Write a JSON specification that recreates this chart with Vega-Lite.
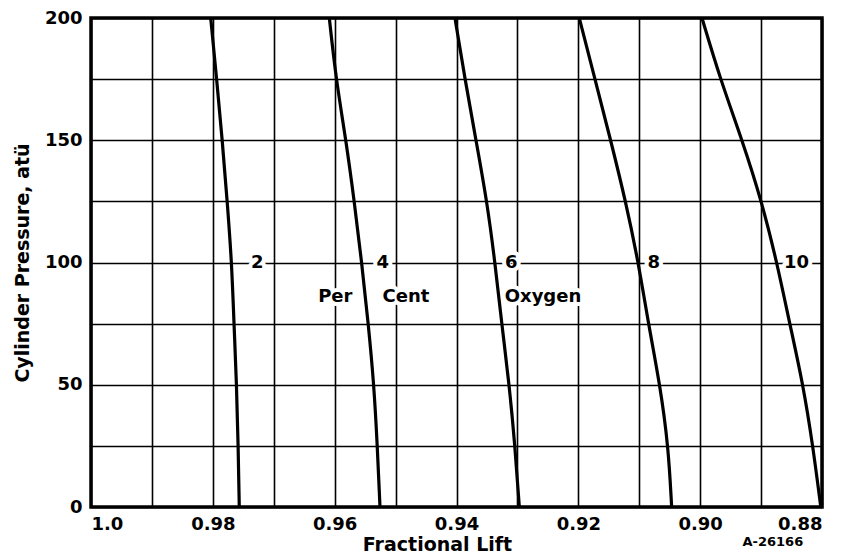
{
  "$schema": "https://vega.github.io/schema/vega-lite/v6.json",
  "width": 731,
  "height": 489,
  "autosize": {"type": "none"},
  "padding": {"left": 91, "top": 18, "right": 30, "bottom": 52},
  "background": "white",
  "title": {"text": "A-26166", "orient": "bottom", "anchor": "end", "fontSize": 13, "fontWeight": "bold", "font": "DejaVu Sans", "color": "black", "dx": -24, "dy": -22},
  "config": {
    "view": {"stroke": "black", "strokeWidth": 3.5},
    "font": "DejaVu Sans",
    "axis": {
      "grid": true, "gridColor": "black", "gridWidth": 1.6, "gridOpacity": 1,
      "domain": false, "ticks": false,
      "labelFont": "DejaVu Sans", "labelFontWeight": "bold", "labelFontSize": 18, "labelColor": "black",
      "titleFont": "DejaVu Sans", "titleFontWeight": "bold", "titleFontSize": 19, "titleColor": "black",
      "labelOverlap": false
    }
  },
  "datasets": {
    "curves": [
      {"o": 2, "p": 0, "f": 0.97566}, {"o": 2, "p": 25, "f": 0.97584}, {"o": 2, "p": 50, "f": 0.9761}, {"o": 2, "p": 75, "f": 0.97653}, {"o": 2, "p": 100, "f": 0.9769}, {"o": 2, "p": 125, "f": 0.97764}, {"o": 2, "p": 150, "f": 0.97845}, {"o": 2, "p": 175, "f": 0.97937}, {"o": 2, "p": 200, "f": 0.98035},
      {"o": 4, "p": 0, "f": 0.95256}, {"o": 4, "p": 25, "f": 0.953}, {"o": 4, "p": 50, "f": 0.95355}, {"o": 4, "p": 75, "f": 0.95448}, {"o": 4, "p": 100, "f": 0.95556}, {"o": 4, "p": 125, "f": 0.95678}, {"o": 4, "p": 150, "f": 0.95814}, {"o": 4, "p": 175, "f": 0.95978}, {"o": 4, "p": 200, "f": 0.96088},
      {"o": 6, "p": 0, "f": 0.92969}, {"o": 6, "p": 25, "f": 0.9304}, {"o": 6, "p": 50, "f": 0.93134}, {"o": 6, "p": 75, "f": 0.93258}, {"o": 6, "p": 100, "f": 0.93368}, {"o": 6, "p": 125, "f": 0.935}, {"o": 6, "p": 150, "f": 0.9368}, {"o": 6, "p": 175, "f": 0.93861}, {"o": 6, "p": 200, "f": 0.94025},
      {"o": 8, "p": 0, "f": 0.90468}, {"o": 8, "p": 25, "f": 0.90523}, {"o": 8, "p": 50, "f": 0.9066}, {"o": 8, "p": 75, "f": 0.9085}, {"o": 8, "p": 100, "f": 0.91014}, {"o": 8, "p": 125, "f": 0.91223}, {"o": 8, "p": 150, "f": 0.91469}, {"o": 8, "p": 175, "f": 0.91727}, {"o": 8, "p": 200, "f": 0.91985},
      {"o": 10, "p": 0, "f": 0.8802}, {"o": 10, "p": 25, "f": 0.8815}, {"o": 10, "p": 50, "f": 0.8831}, {"o": 10, "p": 75, "f": 0.8853}, {"o": 10, "p": 100, "f": 0.8874}, {"o": 10, "p": 125, "f": 0.8899}, {"o": 10, "p": 150, "f": 0.8931}, {"o": 10, "p": 175, "f": 0.8967}, {"o": 10, "p": 200, "f": 0.8997}
    ],
    "labels": [
      {"t": "2", "f": 0.9727, "p": 100},
      {"t": "4", "f": 0.9521, "p": 100},
      {"t": "6", "f": 0.931, "p": 100},
      {"t": "8", "f": 0.9076, "p": 100},
      {"t": "10", "f": 0.8842, "p": 100},
      {"t": "Per", "f": 0.9599, "p": 86},
      {"t": "Cent", "f": 0.9483, "p": 86},
      {"t": "Oxygen", "f": 0.9258, "p": 86}
    ]
  },
  "layer": [
    {
      "data": {"name": "labels"},
      "mark": {"type": "text", "fontSize": 18, "fontWeight": "bold", "font": "DejaVu Sans", "fill": "white", "stroke": "white", "strokeWidth": 8, "strokeJoin": "round"},
      "encoding": {
        "x": {"field": "f", "type": "quantitative"},
        "y": {"field": "p", "type": "quantitative"},
        "text": {"field": "t"}
      }
    },
    {
      "data": {"name": "curves"},
      "mark": {"type": "line", "color": "black", "strokeWidth": 3.2, "interpolate": "basis"},
      "encoding": {
        "x": {
          "field": "f", "type": "quantitative",
          "scale": {"domain": [0.88, 1.0], "reverse": true, "nice": false, "zero": false},
          "axis": {
            "title": "Fractional Lift",
            "values": [0.88, 0.89, 0.9, 0.91, 0.92, 0.93, 0.94, 0.95, 0.96, 0.97, 0.98, 0.99, 1.0],
            "labelExpr": "abs(datum.value - 1) < 1e-9 ? '1.0' : (round(datum.value * 100) % 2 == 0 ? format(datum.value, '.2f') : '')",
            "labelPadding": 8,
            "titlePadding": 2,
            "titleX": 346
          }
        },
        "y": {
          "field": "p", "type": "quantitative",
          "scale": {"domain": [0, 200], "nice": false},
          "axis": {
            "title": "Cylinder Pressure, atü",
            "values": [0, 25, 50, 75, 100, 125, 150, 175, 200],
            "labelExpr": "datum.value % 50 == 0 ? datum.label : ''",
            "labelPadding": 9,
            "titlePadding": 12
          }
        },
        "detail": {"field": "o"},
        "order": {"field": "p"}
      }
    },
    {
      "data": {"name": "labels"},
      "mark": {"type": "text", "fontSize": 18, "fontWeight": "bold", "font": "DejaVu Sans", "color": "black"},
      "encoding": {
        "x": {"field": "f", "type": "quantitative"},
        "y": {"field": "p", "type": "quantitative"},
        "text": {"field": "t"}
      }
    }
  ]
}
